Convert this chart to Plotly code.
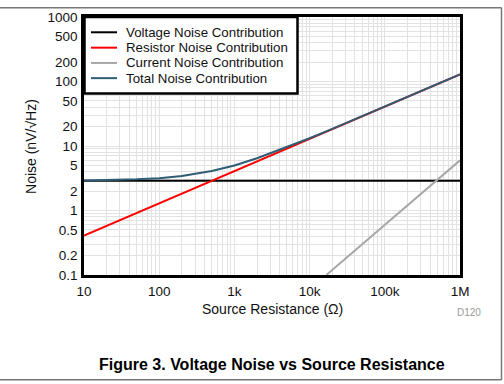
import plotly.graph_objects as go

# Source resistance (ohm) sample points
resistance = [10, 20, 50, 100, 200, 500, 1e3, 2e3, 5e3, 1e4, 2e4, 5e4, 1e5, 2e5, 5e5, 1e6]
# Voltage noise contribution (nV/rtHz)
voltage_noise = [2.9] * len(resistance)
# Resistor noise contribution
resistor_noise = [0.41, 0.58, 0.91, 1.29, 1.82, 2.88, 4.07, 5.76, 9.1, 12.9, 18.2, 28.8, 40.7, 57.6, 91, 129]
# Current noise contribution
current_r = [1.67e4, 1e6]
current_noise = [0.1, 6.0]
# Total noise contribution
total_noise = [2.93, 2.96, 3.04, 3.17, 3.42, 4.09, 5.0, 6.45, 9.55, 13.2, 18.4, 28.9, 40.8, 57.6, 91.1, 129.2]

series_names = ["Voltage Noise Contribution", "Resistor Noise Contribution",
                "Current Noise Contribution", "Total Noise Contribution"]
series_colors = ["#000000", "#FF0000", "#A8A8A8", "#2F5D74"]

x_tickvals = [10, 100, 1e3, 1e4, 1e5, 1e6]
x_ticktext = ["10", "100", "1k", "10k", "100k", "1M"]
y_tickvals = [0.1, 0.2, 0.5, 1, 2, 5, 10, 20, 50, 100, 200, 500, 1000]
y_ticktext = ["0.1", "0.2", "0.5", "1", "2", "5", "10", "20", "50", "100", "200", "500", "1000"]

FONT = "Liberation Sans, Arial, sans-serif"
GRID = "#E2E2E2"

fig = go.Figure()
series = [(resistance, voltage_noise), (resistance, resistor_noise),
          (current_r, current_noise), (resistance, total_noise)]
for (xs, ys), name, color in zip(series, series_names, series_colors):
    fig.add_trace(go.Scatter(x=xs, y=ys, mode="lines", name=name,
                             line=dict(color=color, width=2), showlegend=False))

x_minor = [m * 10 ** d for d in range(1, 6) for m in range(2, 10)]
y_minor = [m * 10 ** d for d in range(-1, 3) for m in range(2, 10)]

fig.update_layout(
    width=504, height=384,
    margin=dict(l=84, r=44, t=10, b=109),
    paper_bgcolor="white", plot_bgcolor="white",
    font=dict(family=FONT, size=13, color="#111111"),
    showlegend=False,
    xaxis=dict(type="log", range=[1, 6], tickvals=x_tickvals, ticktext=x_ticktext,
               showgrid=True, gridcolor=GRID, gridwidth=1,
               showline=True, linecolor="#000000", linewidth=2.5, mirror=True,
               ticks="", zeroline=False, ticklabelstandoff=2,
               tickfont=dict(size=13.5, family=FONT, color="#111111"),
               minor=dict(tickvals=x_minor, showgrid=True, gridcolor=GRID, gridwidth=1, ticks="")),
    yaxis=dict(type="log", range=[-1, 3], tickvals=y_tickvals, ticktext=y_ticktext,
               showgrid=True, gridcolor=GRID, gridwidth=1,
               showline=True, linecolor="#000000", linewidth=2.5, mirror=True,
               ticks="", zeroline=False, ticklabelstandoff=1,
               tickfont=dict(size=13.5, family=FONT, color="#111111"),
               minor=dict(tickvals=y_minor, showgrid=True, gridcolor=GRID, gridwidth=1, ticks="")),
)


def px_x(p):
    return (p - 84) / 376


def px_y(p):
    return (275 - p) / 265


def note(text, x, y, size, color="#111111", angle=0, xanchor="center"):
    fig.add_annotation(text=text, xref="paper", yref="paper", x=px_x(x), y=px_y(y),
                       xanchor=xanchor, yanchor="middle", showarrow=False, textangle=angle,
                       font=dict(size=size, family=FONT, color=color))


note("Source Resistance (\u03a9)", 272, 309.5, 14)
note("Noise (nV/\u221aHz)", 31, 143.5, 14, angle=-90)
note("D120", 469, 314, 10, color="#9A9A9A")
note("<b>Figure 3. Voltage Noise vs Source Resistance</b>", 272, 367, 16, color="#000000")

# Legend box (drawn manually to match the compact row spacing)
fig.add_shape(type="rect", xref="paper", yref="paper", x0=px_x(84.5), x1=px_x(297.5),
              y0=px_y(88.5), y1=px_y(10), fillcolor="white",
              line=dict(color="#000000", width=2.5), layer="above")
row_y = [25.7, 41.5, 57.2, 72.8]
for name, color, ry in zip(series_names, series_colors, row_y):
    fig.add_shape(type="line", xref="paper", yref="paper", x0=px_x(91), x1=px_x(117),
                  y0=px_y(ry), y1=px_y(ry), line=dict(color=color, width=2), layer="above")
    note(name, 124, ry, 13.3, xanchor="left")

frame = dict(color="#777777", width=1.5)
fig.add_shape(type="line", xref="paper", yref="paper", x0=px_x(-5), x1=px_x(501.5), y0=px_y(0.5), y1=px_y(0.5), line=frame)
fig.add_shape(type="line", xref="paper", yref="paper", x0=px_x(501.5), x1=px_x(501.5), y0=px_y(0.5), y1=px_y(382.5), line=frame)
fig.add_shape(type="line", xref="paper", yref="paper", x0=px_x(-5), x1=px_x(501.5), y0=px_y(382.5), y1=px_y(382.5), line=frame)

fig.write_html("out.html", config={"displayModeBar": False},
               post_script="document.body.style.margin='0';")
